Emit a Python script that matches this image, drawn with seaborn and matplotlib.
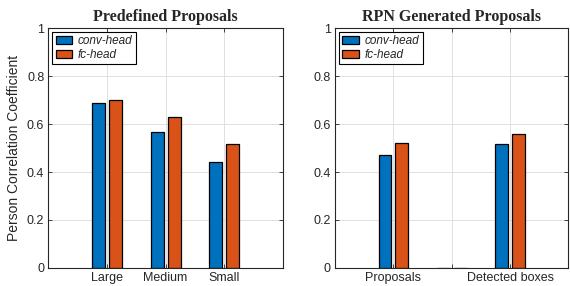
import numpy as np
import pandas as pd
import seaborn as sns
import matplotlib.pyplot as plt

# valeurs
heads = ["conv-head", "fc-head"]
pre_cats = ["Large", "Medium", "Small"]
pre_conv = [0.687, 0.568, 0.442]
pre_fc = [0.700, 0.628, 0.515]
rpn_cats = ["Proposals", "", "Detected boxes"]
rpn_conv = [0.469, 0.0, 0.516]
rpn_fc = [0.522, 0.0, 0.558]
colors = ["#0072BD", "#D95319"]

sns.set_style("white")
plt.rcParams['font.family'] = ['Liberation Sans', 'DejaVu Sans']


def long_df(cats, conv, fc):
    return pd.DataFrame({
        "cat": cats * 2,
        "head": [heads[0]] * len(cats) + [heads[1]] * len(cats),
        "val": conv + fc,
    })


fig = plt.figure(figsize=(5.7, 2.86), dpi=100)
ax1 = fig.add_axes([0.085, 0.063, 0.411, 0.839])
ax2 = fig.add_axes([0.588, 0.063, 0.409, 0.839])

panels = [
    (ax1, long_df(pre_cats, pre_conv, pre_fc), pre_cats, "Predefined Proposals"),
    (ax2, long_df(rpn_cats, rpn_conv, rpn_fc), rpn_cats, "RPN Generated Proposals"),
]

for ax, df, cats, title in panels:
    ax.set_axisbelow(True)
    sns.barplot(data=df, x="cat", y="val", hue="head", order=cats, hue_order=heads,
                palette=colors, saturation=1, width=0.58, gap=0.24,
                edgecolor="black", linewidth=0.9, ax=ax)
    ax.set_xlim(-1, 3)
    ax.set_ylim(0, 1)
    ax.set_yticks([0, 0.2, 0.4, 0.6, 0.8, 1])
    ax.set_yticklabels(["0", "0.2", "0.4", "0.6", "0.8", "1"])
    ax.set_xticks(range(len(cats)))
    ax.set_xticklabels(cats)
    ax.grid(True, color="#e0e0e0", linewidth=0.7)
    for s in ax.spines.values():
        s.set_color("#262626")
        s.set_linewidth(0.8)
    ax.tick_params(direction="in", length=3, width=0.6, labelsize=9, colors="#262626",
                   right=True, top=True, left=True, bottom=True, pad=3)
    ax.set_xlabel("")
    ax.set_ylabel("")
    ax.set_title(title, fontsize=11.5, fontweight="bold", family="Liberation Serif", pad=5)
    leg = ax.legend(loc="upper left", prop={"style": "italic", "size": 8.5}, frameon=True,
                    fancybox=False, framealpha=1, edgecolor="black", borderpad=0.3,
                    handlelength=1.4, handleheight=0.7, handletextpad=0.5,
                    labelspacing=0.15, borderaxespad=0.3)
    leg.get_frame().set_linewidth(0.8)

ax1.set_ylabel("Person Correlation Coefficient", fontsize=10, color="#262626")

fig.savefig("out.png", dpi=100)
